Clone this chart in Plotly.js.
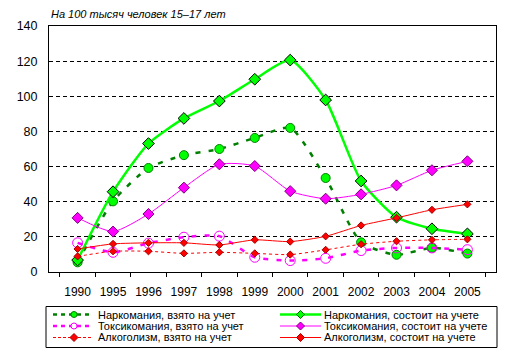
<!DOCTYPE html>
<html>
<head>
<meta charset="utf-8">
<script src="https://cdn.plot.ly/plotly-3.0.1.min.js"></script>
<style>html,body{margin:0;padding:0;background:#fff;}#chart{width:511px;height:355px;}</style>
</head>
<body>
<div id="chart"></div>
<script>
const years = ['1990','1995','1996','1997','1998','1999','2000','2001','2002','2003','2004','2005'];
const narkVzyato   = [5.5, 40.2, 59.2, 66.5, 70.0, 76.3, 82.0, 53.5, 16.9, 9.8, 13.8, 10.5];
const narkSostoit  = [6.8, 45.7, 73.1, 87.4, 97.3, 109.7, 120.6, 97.9, 51.8, 31.2, 24.6, 21.7];
const toksVzyato   = [16.6, 11.2, 16.4, 19.8, 20.4, 8.4, 6.5, 7.8, 12.2, 13.7, 13.7, 12.7];
const toksSostoit  = [30.8, 23.0, 33.0, 48.0, 61.3, 60.3, 46.0, 41.7, 44.2, 49.3, 57.9, 63.0];
const alkVzyato    = [8.9, 11.8, 11.8, 10.6, 11.2, 10.6, 9.9, 12.6, 15.8, 17.5, 18.3, 18.6];
const alkSostoit   = [13.1, 16.0, 16.6, 16.6, 15.4, 18.3, 17.3, 20.3, 26.5, 30.8, 35.4, 38.5];
const names = ['Наркомания, взято на учет','Наркомания, состоит на учете',
  'Токсикомания, взято на учет','Токсикомания, состоит на учете',
  'Алкоголизм, взято на учет','Алкоголизм, состоит на учете'];
const yTicks = [0,20,40,60,80,100,120,140];

// styles per series (same order as names)
const styles = [
  {line: {color: '#008000', width: 2.5, dash: '5px,8px'}, legDash: '4px,4px',
   marker: {symbol: 'circle', size: 9, color: '#00ff00', line: {color: '#008000', width: 1}}, leg: 'circle', legFill: '#00ff00', legLine: '#008000'},
  {line: {color: '#00ff00', width: 2.5}, legDash: 'solid',
   marker: {symbol: 'diamond', size: 9, color: '#00ff00', line: {color: '#000000', width: 1}}, leg: 'diamond', legFill: '#00ff00', legLine: '#006000'},
  {line: {color: '#ff00ff', width: 2.5, dash: '5px,8px'}, legDash: '4px,4px',
   marker: {symbol: 'circle-open', size: 10, color: '#ff00ff', line: {color: '#ff00ff', width: 1}}, leg: 'circle', legFill: '#ffffff', legLine: '#ff00ff'},
  {line: {color: '#ff00ff', width: 1}, legDash: 'solid',
   marker: {symbol: 'diamond', size: 8.5, color: '#ff00ff', line: {color: '#800080', width: 1}}, leg: 'diamond', legFill: '#ff00ff', legLine: '#800080'},
  {line: {color: '#ff0000', width: 1, dash: '3px,3px'}, legDash: '3px,2px',
   marker: {symbol: 'diamond', size: 5.5, color: '#ff0000', line: {color: '#a00000', width: 1}}, leg: 'diamond', legFill: '#ff0000', legLine: '#a00000'},
  {line: {color: '#ff0000', width: 1}, legDash: 'solid',
   marker: {symbol: 'diamond', size: 5.5, color: '#ff0000', line: {color: '#a00000', width: 1}}, leg: 'diamond', legFill: '#ff0000', legLine: '#a00000'}
];
const series = [narkVzyato, narkSostoit, toksVzyato, toksSostoit, alkVzyato, alkSostoit];

const traces = series.map((vals, i) => ({
  x: years, y: vals, name: names[i], mode: 'lines+markers', showlegend: false,
  line: Object.assign({shape: 'spline', smoothing: 0.6}, styles[i].line),
  marker: styles[i].marker
}));

// pixel -> paper helpers (plot area 49..496 x 26..272)
const PL = 49, PR = 496, PT = 26, PB = 272;
const fx = px => (px - PL) / (PR - PL);
const fy = py => (PB - py) / (PB - PT);

const shapes = [
  {type: 'rect', xref: 'paper', yref: 'paper', x0: fx(46), x1: fx(497), y0: fy(306.5), y1: fy(347.5),
   line: {color: '#000', width: 1}, fillcolor: 'rgba(0,0,0,0)'}
];
const annotations = [{text: '<i>На 100 тысяч человек 15–17 лет</i>', xref: 'paper', yref: 'paper',
  x: 0, y: 1, xanchor: 'left', yanchor: 'bottom', yshift: 4, showarrow: false, font: {size: 11}}];

const rowY = [314.5, 326, 337.5];
const colX = [{l0: 53, l1: 93, m: 74, t: 95.5}, {l0: 280, l1: 321, m: 300.5, t: 321.5}];
names.forEach((nm, i) => {
  const c = colX[i % 2], yy = rowY[Math.floor(i / 2)], st = styles[i];
  shapes.push({type: 'line', xref: 'paper', yref: 'paper', x0: fx(c.l0), x1: fx(c.l1), y0: fy(yy), y1: fy(yy),
    line: {color: st.line.color, width: Math.min(st.line.width, 2.5), dash: st.legDash}});
  if (st.leg === 'circle') {
    shapes.push({type: 'circle', xref: 'paper', yref: 'paper', xsizemode: 'pixel', ysizemode: 'pixel',
      xanchor: fx(c.m), yanchor: fy(yy), x0: -3, x1: 3, y0: -3, y1: 3,
      fillcolor: st.legFill, line: {color: st.legLine, width: 1}});
  } else {
    shapes.push({type: 'path', xref: 'paper', yref: 'paper', xsizemode: 'pixel', ysizemode: 'pixel',
      xanchor: fx(c.m), yanchor: fy(yy), path: 'M0,4L4,0L0,-4L-4,0Z',
      fillcolor: st.legFill, line: {color: st.legLine, width: 1}});
  }
  annotations.push({text: nm, xref: 'paper', yref: 'paper', x: fx(c.t), y: fy(yy),
    xanchor: 'left', yanchor: 'middle', showarrow: false, font: {size: 11}});
});

const layout = {
  width: 511, height: 355,
  margin: {l: PL, r: 511 - PR, t: PT, b: 355 - PB, autoexpand: false},
  paper_bgcolor: '#ffffff', plot_bgcolor: '#ffffff',
  font: {family: 'Arial, "Liberation Sans", sans-serif', size: 12, color: '#000'},
  showlegend: false,
  xaxis: {type: 'category', tickson: 'boundaries', ticks: 'outside', ticklen: 4, tickangle: 0,
    ticklabelstandoff: 9,
    tickcolor: '#000', showline: true, linecolor: '#000', linewidth: 1, mirror: true,
    showgrid: false, zeroline: false, tickfont: {size: 12}, fixedrange: true},
  yaxis: {range: [0, 140], tickvals: yTicks, ticks: '', ticklabelstandoff: 8,
    showline: true, linecolor: '#000', linewidth: 1, mirror: true,
    showgrid: true, gridcolor: '#000', griddash: '4px,3px', gridwidth: 1,
    zeroline: false, tickfont: {size: 12.5}, fixedrange: true},
  shapes: shapes,
  annotations: annotations
};

Plotly.newPlot('chart', traces, layout, {displayModeBar: false, staticPlot: true});
</script>
</body>
</html>
